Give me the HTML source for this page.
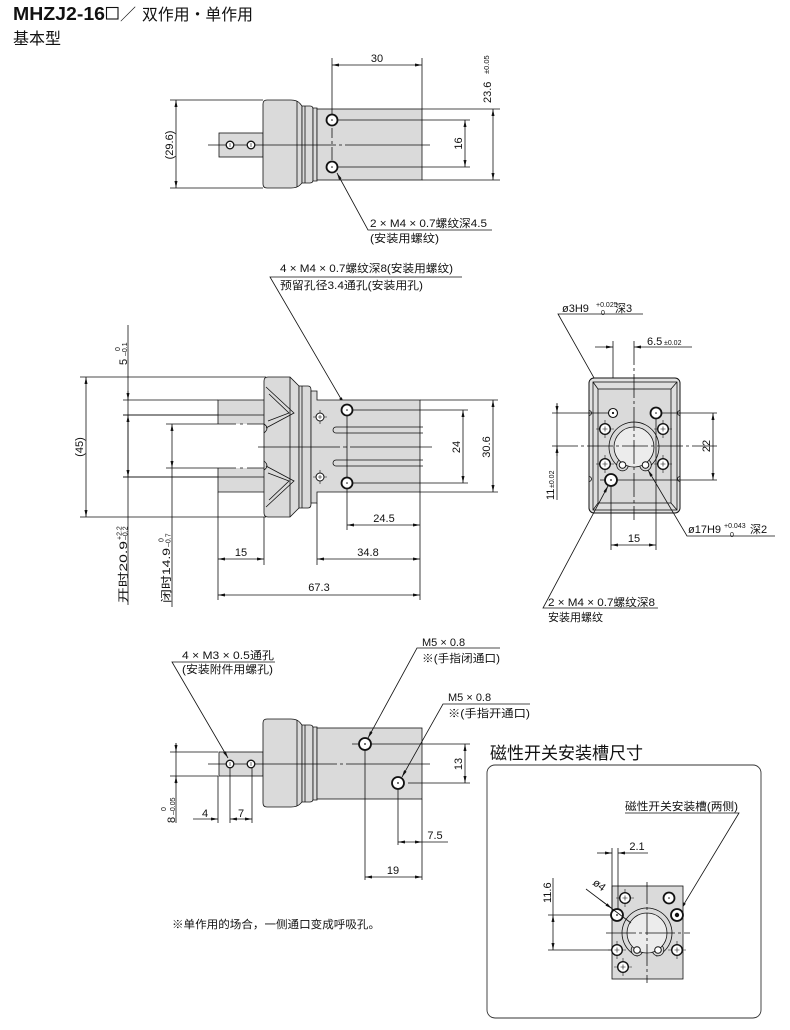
<!DOCTYPE html>
<html><head><meta charset="utf-8"><style>
html,body{margin:0;padding:0;background:#fff}
svg{display:block}
</style></head><body>
<svg xmlns="http://www.w3.org/2000/svg" xmlns:xlink="http://www.w3.org/1999/xlink" width="790" height="1030" viewBox="0 0 790 1030">
<defs>
<marker id="a" viewBox="0 0 7 3" refX="7" refY="1.5" markerWidth="7" markerHeight="3" markerUnits="userSpaceOnUse" orient="auto-start-reverse"><path d="M0,0L7,1.5L0,3z" fill="#111"/></marker>
<g id="hA"><circle r="5.5" fill="#fff" stroke="#111" stroke-width="1.8"/><circle r="0.8" fill="#111" stroke="none"/></g>
<g id="hA6"><circle r="6" fill="#fff" stroke="#111" stroke-width="1.8"/><circle r="0.9" fill="#111" stroke="none"/></g>
<g id="hX"><path d="M-9,0H9M0,-9V9" stroke="#111" stroke-width="0.6" fill="none"/><circle r="5.3" fill="#fff" stroke="#111" stroke-width="1.4"/><path d="M-2.5,0H2.5M0,-2.5V2.5" stroke="#111" stroke-width="0.6"/></g>
<g id="hX4"><path d="M-7,0H7M0,-7V7" stroke="#111" stroke-width="0.6" fill="none"/><circle r="4" fill="#fff" stroke="#111" stroke-width="1"/><path d="M-2,0H2M0,-2V2" stroke="#111" stroke-width="0.6"/></g>
<g id="hS"><circle r="3.8" fill="#fff" stroke="#111" stroke-width="1.3"/><path d="M0,-2V2" stroke="#111" stroke-width="0.6"/></g>
<g id="body" stroke="#111" stroke-width="0.8">
 <rect x="219" y="133" width="44" height="24" fill="#dadada"/>
 <path d="M267,100H291Q297,100 300,103.5L302,106V183L300,185Q297,188 291,188H267Q263,188 263,184V104Q263,100 267,100Z" fill="#dadada"/>
 <path d="M297,101V187" fill="none"/>
 <path d="M302,106H310Q313,106 313,109V180Q313,183 310,183H302Z" fill="#dadada"/>
 <path d="M305,106V183" fill="none"/>
 <path d="M313,108H317V181H313Z" fill="#dadada"/>
 <rect x="317" y="109" width="105" height="71" fill="#dadada"/>
</g>
</defs>

<!-- ================= TITLE ================= -->
<g fill="#111" font-family="'Liberation Sans','Noto Sans CJK SC',sans-serif">
<text x="13" y="20" font-size="18" font-weight="bold" textLength="92" lengthAdjust="spacingAndGlyphs">MHZJ2-16</text>
<text x="120" y="20" font-size="16">／</text>
<text x="142" y="20" font-size="16" textLength="111" lengthAdjust="spacingAndGlyphs">双作用・单作用</text>
<text x="13" y="44" font-size="16">基本型</text>
</g>
<rect x="106.5" y="7.5" width="11.5" height="11.5" fill="none" stroke="#111" stroke-width="1.1"/>

<!-- ================= GRAPHICS ================= -->
<g stroke="#111" stroke-width="0.8" fill="none">

<!-- ---------- TOP VIEW ---------- -->
<use href="#body" xlink:href="#body"/>
<path d="M170,100H263M170,188H263"/>
<path d="M176,100V188" marker-start="url(#a)" marker-end="url(#a)"/>
<path d="M208,145H336M339,145H342M345,145H430"/>
<path d="M332,58V114M422,58V109"/>
<path d="M332,65H422" marker-start="url(#a)" marker-end="url(#a)"/>
<path d="M338,120H470M338,167H470"/>
<path d="M465,120V167" marker-start="url(#a)" marker-end="url(#a)"/>
<path d="M422,109H500M422,180H500"/>
<path d="M493,109V180" marker-start="url(#a)" marker-end="url(#a)"/>
<path d="M332,128V138M332,141V144M332,147V160"/>
<path d="M492,230H368L337,173" marker-end="url(#a)"/>
<use href="#hS" xlink:href="#hS" x="230" y="145"/>
<use href="#hS" xlink:href="#hS" x="251" y="145"/>
<use href="#hA" xlink:href="#hA" x="332" y="120"/>
<use href="#hA" xlink:href="#hA" x="332" y="167"/>

<!-- ---------- MIDDLE VIEW ---------- -->
<path d="M462,277H270L344,404" marker-end="url(#a)"/>
<path d="M80,377H266M80,517H266"/>
<path d="M86,377V517" marker-start="url(#a)" marker-end="url(#a)"/>
<path d="M128,325V605"/>
<path d="M128,391V400" marker-end="url(#a)"/>
<path d="M128,415V477" marker-start="url(#a)" marker-end="url(#a)"/>
<path d="M123,400H218M123,415H264M123,477H264M166,424H218M166,468H218"/>
<path d="M172,424V468" marker-start="url(#a)" marker-end="url(#a)"/>
<path d="M172,468V607"/>
<rect x="218" y="400" width="46" height="24" fill="#dadada" stroke="none"/>
<rect x="218" y="468" width="46" height="24" fill="#dadada" stroke="none"/>
<path d="M264,400H218V424M218,468V492H264M123,415H264M123,477H264"/>
<path d="M218,424H236M240,424H243M247,424H264M218,468H236M240,468H243M247,468H264"/>
<path d="M268,377H290L299,386V508L290,517H268Q264,517 264,513V381Q264,377 268,377Z" fill="#dadada"/>
<path d="M290,377V517"/>
<path d="M266,387L294,413L266,428M269,394L289,413L268,421"/>
<path d="M266,507L294,481L266,466M269,500L289,481L268,473"/>
<path d="M264,424Q270,428 264,433M264,461Q270,466 264,470"/>
<path d="M299,386H308Q311,386 311,390V504Q311,508 308,508H299Z" fill="#dadada"/>
<path d="M302,386V508"/>
<path d="M311,391H317V400H420V492H317V503H311Z" fill="#dadada"/>
<path d="M423,427H336A3,3 0 0 0 336,433H423M423,460H336A3,3 0 0 0 336,466H423"/>
<path d="M258,447H340M343,447H347M350,447H432"/>
<path d="M353,410H468M353,483H468"/>
<path d="M463,410V483" marker-start="url(#a)" marker-end="url(#a)"/>
<path d="M420,400H498M420,492H498"/>
<path d="M493,400V492" marker-start="url(#a)" marker-end="url(#a)"/>
<path d="M347,415V530"/>
<path d="M347,525H420" marker-start="url(#a)" marker-end="url(#a)"/>
<path d="M420,492V600M218,492V600M264,517V565M317,503V565"/>
<path d="M218,559H264" marker-start="url(#a)" marker-end="url(#a)"/>
<path d="M317,559H420" marker-start="url(#a)" marker-end="url(#a)"/>
<path d="M218,595H420" marker-start="url(#a)" marker-end="url(#a)"/>
<use href="#hX4" xlink:href="#hX4" x="320" y="417"/>
<use href="#hX4" xlink:href="#hX4" x="320" y="477"/>
<use href="#hA" xlink:href="#hA" x="347" y="410"/>
<use href="#hA" xlink:href="#hA" x="347" y="483"/>

<!-- ---------- RIGHT END VIEW ---------- -->
<path d="M643,314H558L611,408" marker-end="url(#a)"/>
<path d="M595,347H613" marker-end="url(#a)"/>
<path d="M692,347H634" marker-end="url(#a)"/>
<path d="M613,341V408"/>
<rect x="589" y="378" width="91" height="135" rx="5" fill="#e2e2e2" stroke-width="1"/>
<rect x="593" y="382" width="84" height="128" fill="#dedede"/>
<rect x="598" y="389" width="73" height="114" fill="#dadada"/>
<path d="M593,382L598,389M677,382L671,389M593,510L598,503M677,510L671,503"/>
<path d="M589,410.5A2.5,2.5 0 0 1 589,415.5M589,476.5A2.5,2.5 0 0 1 589,481.5M680,410.5A2.5,2.5 0 0 0 680,415.5M680,476.5A2.5,2.5 0 0 0 680,481.5"/>
<path d="M552,413H609M661,413H717M617,480H717M600,480H605"/>
<path d="M611,486V550M656,419V550"/>
<path d="M644.6,469.7A25,25 0 1 0 623.4,469.7"/>
<circle cx="622.5" cy="465" r="5.8" fill="#dadada"/>
<circle cx="645.5" cy="465" r="5.8" fill="#dadada"/>
<circle cx="634" cy="447" r="20" fill="#ececec"/>
<path d="M634,341V520" stroke-dasharray="24 3 3 3"/>
<path d="M552,446H717" stroke-dasharray="26 3 3 3"/>
<circle cx="622.5" cy="465" r="3.3" fill="#fff" stroke-width="1"/>
<circle cx="645.5" cy="465" r="3.3" fill="#fff" stroke-width="1"/>
<path d="M713,413V480" marker-start="url(#a)" marker-end="url(#a)"/>
<path d="M557,403V500"/>
<path d="M557,404V413" marker-end="url(#a)"/>
<path d="M557,456V446" marker-end="url(#a)"/>
<path d="M611,545H656" marker-start="url(#a)" marker-end="url(#a)"/>
<circle cx="613" cy="413" r="4.5" fill="#fff" stroke-width="1.1"/>
<circle cx="613" cy="413" r="0.7" fill="#111"/>
<use href="#hA" xlink:href="#hA" x="656" y="413"/>
<use href="#hX" xlink:href="#hX" x="605" y="429"/>
<use href="#hX" xlink:href="#hX" x="663" y="429"/>
<use href="#hX" xlink:href="#hX" x="605" y="464"/>
<use href="#hX" xlink:href="#hX" x="663" y="464"/>
<use href="#hA6" xlink:href="#hA6" x="611" y="480"/>
<path d="M775,536H687L648,470" marker-end="url(#a)"/>
<path d="M658,608H543L608,486" marker-end="url(#a)"/>

<!-- ---------- BOTTOM VIEW ---------- -->
<use href="#body" xlink:href="#body" y="619"/>
<path d="M208,764H337M340,764H343M346,764H430"/>
<path d="M275,662H172L228,758" marker-end="url(#a)"/>
<path d="M500,648H417L368,738" marker-end="url(#a)"/>
<path d="M530,704H443L402,777" marker-end="url(#a)"/>
<path d="M352,744H470M408,783H470"/>
<path d="M465,744V783" marker-start="url(#a)" marker-end="url(#a)"/>
<path d="M176,743V823"/>
<path d="M176,743V752" marker-end="url(#a)"/>
<path d="M176,784V776" marker-end="url(#a)"/>
<path d="M170,752H218M170,776H218"/>
<path d="M218,776V823M230,768V823M252,768V823"/>
<path d="M193,819H218" marker-end="url(#a)"/>
<path d="M230,819H252" marker-start="url(#a)" marker-end="url(#a)"/>
<path d="M398,789V845M422,799V880M365,750V880"/>
<path d="M398,842H422" marker-start="url(#a)" marker-end="url(#a)"/>
<path d="M422,842H448"/>
<path d="M365,877H422" marker-start="url(#a)" marker-end="url(#a)"/>
<use href="#hS" xlink:href="#hS" x="230" y="764"/>
<use href="#hS" xlink:href="#hS" x="251" y="764"/>
<use href="#hA6" xlink:href="#hA6" x="365" y="744"/>
<use href="#hA6" xlink:href="#hA6" x="398" y="783"/>

<!-- ---------- BOTTOM RIGHT BOX ---------- -->
<rect x="487" y="765" width="274" height="253" rx="8" stroke="#333" stroke-width="0.9"/>
<path d="M625,813H739L681,909" marker-end="url(#a)"/>
<rect x="612" y="886" width="71" height="93" fill="#dadada"/>
<path d="M548,915H611M548,950H611"/>
<path d="M553,878V915"/>
<path d="M553,915V950" marker-start="url(#a)" marker-end="url(#a)"/>
<path d="M597,853H612" marker-end="url(#a)"/>
<path d="M648,853H618" marker-end="url(#a)"/>
<path d="M612,848V912M618,848V909"/>
<path d="M656.4,956.2A25,25 0 1 0 637.6,956.2"/>
<circle cx="637" cy="950" r="5.8" fill="#dadada"/>
<circle cx="658" cy="950" r="5.8" fill="#dadada"/>
<circle cx="647" cy="933" r="20" fill="#ececec"/>
<path d="M647,882V983" stroke-dasharray="22 3 3 3"/>
<path d="M606,933H690" stroke-dasharray="30 3 3 3"/>
<circle cx="637" cy="950" r="3.3" fill="#fff" stroke-width="1"/>
<circle cx="658" cy="950" r="3.3" fill="#fff" stroke-width="1"/>
<use href="#hX" xlink:href="#hX" x="625" y="898"/>
<use href="#hA" xlink:href="#hA" x="669" y="898"/>
<use href="#hA6" xlink:href="#hA6" x="617" y="915"/>
<use href="#hA6" xlink:href="#hA6" x="677" y="915"/>
<circle cx="677" cy="915" r="2.2" fill="#111" stroke="none"/>
<use href="#hX" xlink:href="#hX" x="617" y="950"/>
<use href="#hX" xlink:href="#hX" x="677" y="950"/>
<use href="#hX" xlink:href="#hX" x="623" y="967"/>
<path d="M586,889L631,923"/>
<path d="M600,899.6L612,908.6" marker-end="url(#a)"/>
</g>

<!-- ================= TEXT ================= -->
<g fill="#111" stroke="none" font-family="'Liberation Sans','Noto Sans CJK SC',sans-serif" font-size="11">
<!-- top view -->
<text x="377" y="62" text-anchor="middle">30</text>
<text transform="translate(173,145) rotate(-90)" text-anchor="middle">(29.6)</text>
<text transform="translate(462,143.5) rotate(-90)" text-anchor="middle">16</text>
<text transform="translate(491,103) rotate(-90)">23.6</text>
<text transform="translate(489,74) rotate(-90)" font-size="7.5">±0.05</text>
<text x="370" y="227" textLength="117" lengthAdjust="spacingAndGlyphs">2 × M4 × 0.7螺纹深4.5</text>
<text x="370" y="242" textLength="69" lengthAdjust="spacingAndGlyphs">(安装用螺纹)</text>

<!-- middle view -->
<text x="280" y="272" textLength="173" lengthAdjust="spacingAndGlyphs">4 × M4 × 0.7螺纹深8(安装用螺纹)</text>
<text x="280" y="289" textLength="143" lengthAdjust="spacingAndGlyphs">预留孔径3.4通孔(安装用孔)</text>
<text transform="translate(83,447) rotate(-90)" text-anchor="middle">(45)</text>
<text transform="translate(127,365) rotate(-90)">5</text>
<text transform="translate(120,351) rotate(-90)" font-size="7">0</text>
<text transform="translate(127,356) rotate(-90)" font-size="7">–0.1</text>
<text transform="translate(127,603) rotate(-90)" textLength="62" lengthAdjust="spacingAndGlyphs">开时20.9</text>
<text transform="translate(121.5,540) rotate(-90)" font-size="7">+2.2</text>
<text transform="translate(127.5,540) rotate(-90)" font-size="7">–0.2</text>
<text transform="translate(170,603) rotate(-90)" textLength="55" lengthAdjust="spacingAndGlyphs">闭时14.9</text>
<text transform="translate(163.5,542) rotate(-90)" font-size="7">0</text>
<text transform="translate(170.5,547) rotate(-90)" font-size="7">–0.7</text>
<text transform="translate(460,447) rotate(-90)" text-anchor="middle">24</text>
<text transform="translate(490,447) rotate(-90)" text-anchor="middle">30.6</text>
<text x="384" y="522" text-anchor="middle">24.5</text>
<text x="241" y="556" text-anchor="middle">15</text>
<text x="368" y="556" text-anchor="middle">34.8</text>
<text x="319" y="591" text-anchor="middle">67.3</text>

<!-- right view -->
<text x="562" y="312">ø3H9</text>
<text x="596" y="307" font-size="7">+0.025</text>
<text x="601" y="315" font-size="7">0</text>
<text x="615" y="312">深3</text>
<text x="647" y="345">6.5</text>
<text x="664" y="345" font-size="7">±0.02</text>
<text transform="translate(710,446) rotate(-90)" text-anchor="middle">22</text>
<text transform="translate(554,500) rotate(-90)">11</text>
<text transform="translate(554,488) rotate(-90)" font-size="7">±0.02</text>
<text x="634" y="542" text-anchor="middle">15</text>
<text x="688" y="533">ø17H9</text>
<text x="724" y="528" font-size="7">+0.043</text>
<text x="730" y="537" font-size="7">0</text>
<text x="750" y="533">深2</text>
<text x="548" y="606" textLength="107" lengthAdjust="spacingAndGlyphs">2 × M4 × 0.7螺纹深8</text>
<text x="548" y="621">安装用螺纹</text>

<!-- bottom view -->
<text x="182" y="659" textLength="92" lengthAdjust="spacingAndGlyphs">4 × M3 × 0.5通孔</text>
<text x="182" y="673" textLength="91" lengthAdjust="spacingAndGlyphs">(安装附件用螺孔)</text>
<text x="422" y="646">M5 × 0.8</text>
<text x="422" y="662" textLength="78" lengthAdjust="spacingAndGlyphs">※(手指闭通口)</text>
<text x="448" y="701">M5 × 0.8</text>
<text x="448" y="717" textLength="82" lengthAdjust="spacingAndGlyphs">※(手指开通口)</text>
<text transform="translate(462,764) rotate(-90)" text-anchor="middle">13</text>
<text transform="translate(175,823) rotate(-90)">8</text>
<text transform="translate(175,815) rotate(-90)" font-size="7">–0.05</text>
<text transform="translate(166,811) rotate(-90)" font-size="7">0</text>
<text x="205" y="817" text-anchor="middle">4</text>
<text x="241" y="817" text-anchor="middle">7</text>
<text x="435" y="839" text-anchor="middle">7.5</text>
<text x="393" y="874" text-anchor="middle">19</text>
<text x="172" y="928" textLength="208" lengthAdjust="spacingAndGlyphs">※单作用的场合，一侧通口变成呼吸孔。</text>

<!-- bottom right box -->
<text x="490" y="759" font-size="17">磁性开关安装槽尺寸</text>
<text x="625" y="810" textLength="113" lengthAdjust="spacingAndGlyphs">磁性开关安装槽(两侧)</text>
<text x="637" y="850" text-anchor="middle">2.1</text>
<text transform="translate(551,903) rotate(-90)">11.6</text>
<text transform="translate(592,884) rotate(37)">ø4</text>
</g>
</svg>
</body></html>
